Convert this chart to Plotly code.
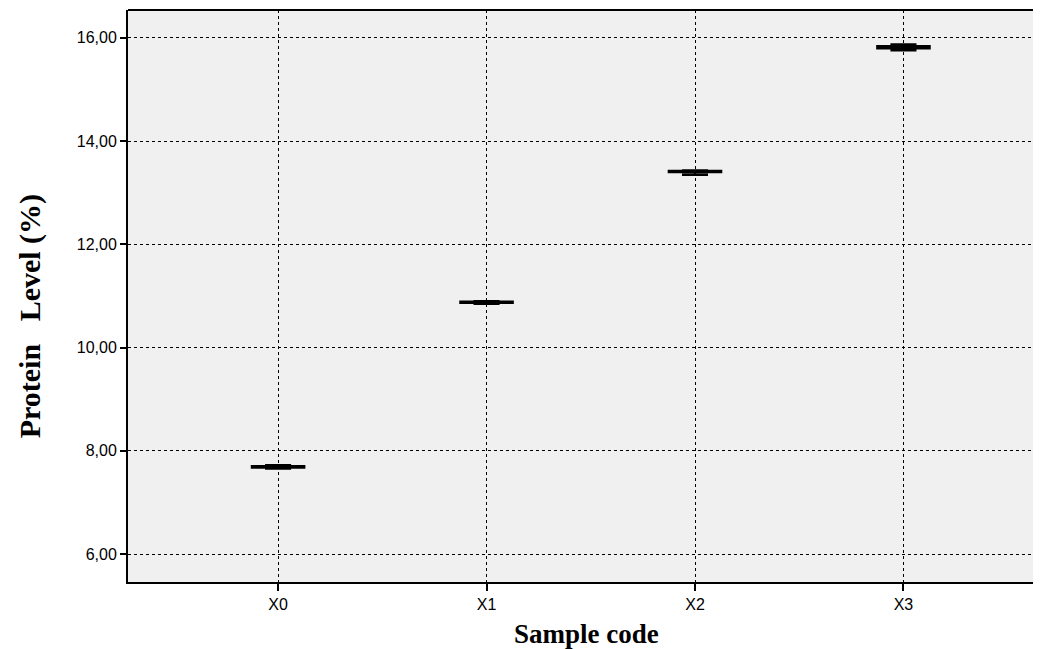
import plotly.graph_objects as go

categories = ["X0", "X1", "X2", "X3"]
positions = [0, 1, 2, 3]
lower_fence = [7.66, 10.85, 13.35, 15.76]
q1 = [7.68, 10.87, 13.40, 15.80]
median = [7.69, 10.88, 13.41, 15.82]
q3 = [7.70, 10.89, 13.42, 15.84]
upper_fence = [7.72, 10.90, 13.43, 15.87]
y_ticks = [6, 8, 10, 12, 14, 16]

fig = go.Figure()
fig.add_trace(go.Box(
    x=positions, q1=q1, median=median, q3=q3,
    lowerfence=lower_fence, upperfence=upper_fence,
    width=0.25, whiskerwidth=0.5,
    line=dict(color="black", width=2.5),
    fillcolor="#555555",
    boxpoints=False, hoverinfo="skip", showlegend=False,
))

grid = dict(showgrid=True, gridcolor="black", gridwidth=1, griddash="dot")
fig.update_layout(
    width=1042, height=641,
    margin=dict(l=120, r=0, t=2, b=67),
    paper_bgcolor="white", plot_bgcolor="#f0f0f0",
    separators=",.",
    font=dict(family="Liberation Sans, Arial", size=16, color="black"),
    xaxis=dict(range=[-0.72, 3.703], tickvals=positions, ticktext=categories,
               ticks="outside", ticklen=7, tickwidth=2, tickcolor="black",
               showline=True, linecolor="black", linewidth=2, mirror=False,
               zeroline=False, **grid),
    yaxis=dict(range=[5.46, 16.54], tickvals=y_ticks, tickformat=".2f",
               ticks="outside", ticklen=6, tickwidth=2, tickcolor="black",
               showline=True, linecolor="black", linewidth=2, mirror=False,
               zeroline=False, **grid),
    shapes=[dict(type="line", xref="paper", yref="paper", x0=0, x1=1, y0=1, y1=1,
                 line=dict(color="black", width=2))],
    annotations=[
        dict(text="<b>Sample code</b>", x=1.48, y=-0.091, xref="x", yref="paper",
             xanchor="center", yanchor="middle", showarrow=False,
             font=dict(family="Liberation Serif, Times New Roman", size=27)),
        dict(text="<b>Protein   Level (%)</b>", xref="paper", yref="paper", x=-0.106, y=0.465,
             xanchor="center", yanchor="middle", showarrow=False, textangle=-90,
             font=dict(family="Liberation Serif, Times New Roman", size=30)),
    ],
)

fig.write_html("out.html")
